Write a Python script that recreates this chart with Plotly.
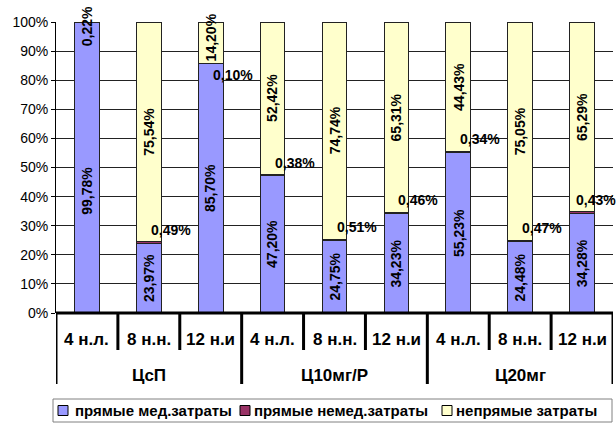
import plotly.graph_objects as go

# Cost structure by scheme and period (shares, %)
groups = ["ЦсП", "Ц10мг/Р", "Ц20мг"]
periods = ["4 н.л.", "8 н.н.", "12 н.и"]
direct_med = [99.78, 23.97, 85.70, 47.20, 24.75, 34.23, 55.23, 24.48, 34.28]
direct_nonmed = [0.00, 0.49, 0.10, 0.38, 0.51, 0.46, 0.34, 0.47, 0.43]
indirect = [0.22, 75.54, 14.20, 52.42, 74.74, 65.31, 44.43, 75.05, 65.29]
series_names = ["прямые мед.затраты", "прямые немед.затраты", "непрямые затраты"]
series_colors = ["#9999FF", "#993366", "#FFFFCC"]

FONT = "Liberation Sans, Arial, sans-serif"
W, H = 616, 424
ML, MR, MT, MB = 56, 3, 22, 111
PW, PH = W - ML - MR, H - MT - MB
n = len(direct_med)
xs = list(range(n))
cats = [p for _ in groups for p in periods]


def px_x(p):
    return (p - ML) / PW


def px_y(p):
    return (H - MB - p) / PH


def pct(v):
    return f"{v:.2f}".replace(".", ",") + "%"


fig = go.Figure()
for name, vals, col in zip(series_names, [direct_med, direct_nonmed, indirect], series_colors):
    fig.add_trace(go.Bar(
        x=xs, y=[v / 100 for v in vals], name=name, width=0.4,
        marker=dict(color=col, line=dict(color="#222222", width=1)),
        hoverinfo="skip", showlegend=False,
    ))

ann = []
lab_font = dict(family=FONT, size=14, color="black", weight="bold")
for i in xs:
    # vertical labels centred in the blue and yellow segments
    b = direct_med[i]
    ann.append(dict(x=i, y=b / 200, text=pct(b), textangle=-90, showarrow=False,
                    font=lab_font, yanchor="middle", yshift=-23 if i == 0 else 0))
    top = b + direct_nonmed[i]
    ann.append(dict(x=i, y=(top + 100) / 200, text=pct(indirect[i]), textangle=-90,
                    showarrow=False, font=lab_font, yanchor="middle",
                    yshift=5 if i == 2 else -4 if i == 0 else 0))
    # horizontal labels for the thin middle segment
    if direct_nonmed[i] > 0:
        ann.append(dict(x=i, y=top / 100, text=pct(direct_nonmed[i]), showarrow=False,
                        xanchor="left", yanchor="middle",
                        xshift=-8 if i == n - 1 else 0,
                        yshift=-12 if i == 2 else 12, font=lab_font))

# category table under the plot
cat_font = dict(family=FONT, size=17, color="black", weight="bold")
for i, c in enumerate(cats):
    ann.append(dict(x=i, y=px_y(339), yref="paper", text=f"<b>{c}</b>", showarrow=False,
                    xanchor="center", yanchor="middle", font=cat_font))
for g, name in enumerate(groups):
    ann.append(dict(x=g * 3 + 1, y=px_y(375), yref="paper", text=f"<b>{name}</b>",
                    showarrow=False, xanchor="center", yanchor="middle", font=cat_font))

shapes = []
line = dict(color="black", width=3)
shapes.append(dict(type="line", xref="x", yref="paper", x0=-0.5, x1=n - 0.5, y0=0, y1=0, line=line))
for k in range(n + 1):
    xb = k - 0.5
    y1 = px_y(384) if k % 3 == 0 else px_y(350)
    shapes.append(dict(type="line", xref="x", yref="paper", x0=xb, x1=xb, y0=0, y1=y1, line=line))

# legend box with coloured keys
shapes.append(dict(type="rect", xref="paper", yref="paper",
                   x0=px_x(53), x1=px_x(612), y0=px_y(422), y1=px_y(399),
                   line=dict(color="#808080", width=1), fillcolor="white"))
leg_font = dict(family=FONT, size=15, color="black", weight="bold")
for name, col, sx, tx in zip(series_names, series_colors, [58, 240, 442], [75, 254, 456]):
    shapes.append(dict(type="rect", xref="paper", yref="paper",
                       x0=px_x(sx), x1=px_x(sx + 10), y0=px_y(415.5), y1=px_y(405.5),
                       line=dict(color="black", width=1), fillcolor=col))
    ann.append(dict(x=px_x(tx - 2), y=px_y(410.5), xref="paper", yref="paper",
                    text=f"<b>{name}</b>", xanchor="left", yanchor="middle",
                    showarrow=False, font=leg_font))

fig.update_layout(
    barmode="stack",
    width=W, height=H,
    margin=dict(l=ML, r=MR, t=MT, b=MB),
    paper_bgcolor="white", plot_bgcolor="white",
    font=dict(family=FONT, size=14, color="black"),
    showlegend=False,
    annotations=ann,
    shapes=shapes,
)
fig.update_xaxes(range=[-0.5, n - 0.5], showticklabels=False, showgrid=False,
                 zeroline=False, ticks="", showline=False)
fig.update_yaxes(range=[0, 1], dtick=0.1, tickformat=".0%", showgrid=True,
                 gridcolor="#222222", gridwidth=1, zeroline=False,
                 showline=True, linecolor="black", linewidth=1,
                 ticks="outside", ticklen=4, tickcolor="black",
                 tickfont=dict(family=FONT, size=14, color="black"))

fig.write_html("out.html")
